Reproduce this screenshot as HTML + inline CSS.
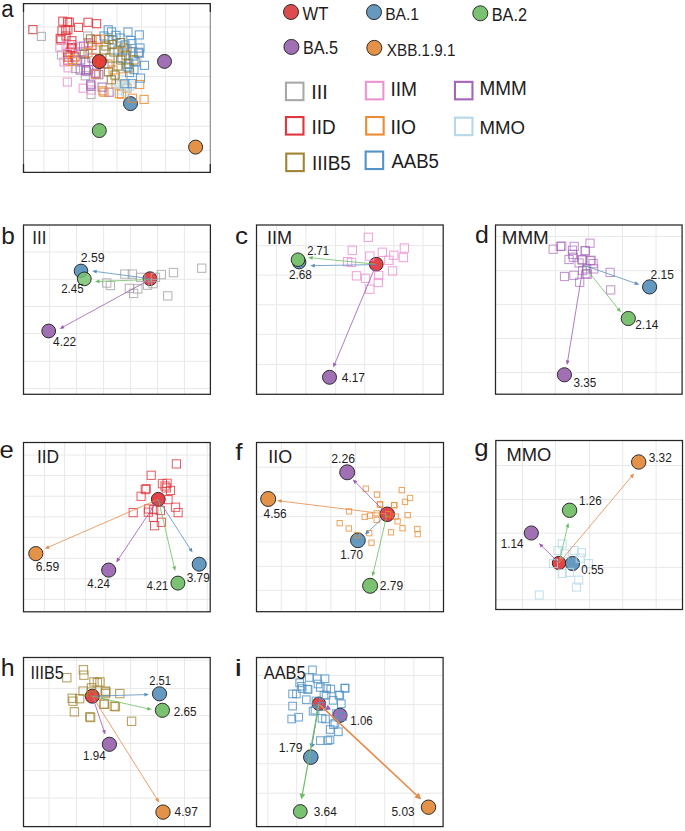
<!DOCTYPE html>
<html><head><meta charset="utf-8"><style>
html,body{margin:0;padding:0;background:#fff;}
svg{display:block;}
text{font-family:"Liberation Sans",sans-serif;fill:#1e1c1d;}
.g{stroke:#e8e8e8;stroke-width:1;}
.fr{fill:none;stroke:#262626;stroke-width:1.25;}
</style></head><body>
<svg width="685" height="831" viewBox="0 0 685 831">
<line x1="43.8" y1="3.5" x2="43.8" y2="172.4" class="g"/>
<line x1="68.6" y1="3.5" x2="68.6" y2="172.4" class="g"/>
<line x1="92.8" y1="3.5" x2="92.8" y2="172.4" class="g"/>
<line x1="117.0" y1="3.5" x2="117.0" y2="172.4" class="g"/>
<line x1="141.4" y1="3.5" x2="141.4" y2="172.4" class="g"/>
<line x1="165.6" y1="3.5" x2="165.6" y2="172.4" class="g"/>
<line x1="189.7" y1="3.5" x2="189.7" y2="172.4" class="g"/>
<line x1="23.5" y1="27.0" x2="210.3" y2="27.0" class="g"/>
<line x1="23.5" y1="52.3" x2="210.3" y2="52.3" class="g"/>
<line x1="23.5" y1="76.5" x2="210.3" y2="76.5" class="g"/>
<line x1="23.5" y1="101.4" x2="210.3" y2="101.4" class="g"/>
<line x1="23.5" y1="126.3" x2="210.3" y2="126.3" class="g"/>
<line x1="23.5" y1="150.4" x2="210.3" y2="150.4" class="g"/>
<circle cx="130.5" cy="103.6" r="7.00" fill="#6699c0" fill-opacity="1.0" stroke="#262626" stroke-width="0.95"/>
<rect x="28.85" y="25.55" width="8.1" height="8.1" fill="none" stroke="#e0363c" stroke-width="1.1" stroke-opacity="0.85"/>
<rect x="58.75" y="17.15" width="8.1" height="8.1" fill="none" stroke="#e0363c" stroke-width="1.1" stroke-opacity="0.85"/>
<rect x="63.45" y="17.85" width="8.1" height="8.1" fill="none" stroke="#e0363c" stroke-width="1.1" stroke-opacity="0.85"/>
<rect x="65.25" y="18.25" width="8.1" height="8.1" fill="none" stroke="#e0363c" stroke-width="1.1" stroke-opacity="0.85"/>
<rect x="74.45" y="23.35" width="8.1" height="8.1" fill="none" stroke="#e0363c" stroke-width="1.1" stroke-opacity="0.85"/>
<rect x="83.95" y="18.25" width="8.1" height="8.1" fill="none" stroke="#e0363c" stroke-width="1.1" stroke-opacity="0.85"/>
<rect x="92.55" y="19.65" width="8.1" height="8.1" fill="none" stroke="#e0363c" stroke-width="1.1" stroke-opacity="0.85"/>
<rect x="57.95" y="26.75" width="8.1" height="8.1" fill="none" stroke="#e0363c" stroke-width="1.1" stroke-opacity="0.85"/>
<rect x="61.65" y="26.45" width="8.1" height="8.1" fill="none" stroke="#e0363c" stroke-width="1.1" stroke-opacity="0.85"/>
<rect x="63.85" y="25.65" width="8.1" height="8.1" fill="none" stroke="#e0363c" stroke-width="1.1" stroke-opacity="0.85"/>
<rect x="56.15" y="34.45" width="8.1" height="8.1" fill="none" stroke="#e0363c" stroke-width="1.1" stroke-opacity="0.85"/>
<rect x="67.85" y="36.65" width="8.1" height="8.1" fill="none" stroke="#e0363c" stroke-width="1.1" stroke-opacity="0.85"/>
<rect x="67.45" y="40.65" width="8.1" height="8.1" fill="none" stroke="#e0363c" stroke-width="1.1" stroke-opacity="0.85"/>
<rect x="67.15" y="43.55" width="8.1" height="8.1" fill="none" stroke="#e0363c" stroke-width="1.1" stroke-opacity="0.85"/>
<rect x="84.25" y="38.85" width="8.1" height="8.1" fill="none" stroke="#e0363c" stroke-width="1.1" stroke-opacity="0.85"/>
<rect x="87.95" y="41.35" width="8.1" height="8.1" fill="none" stroke="#e0363c" stroke-width="1.1" stroke-opacity="0.85"/>
<rect x="92.65" y="35.55" width="8.1" height="8.1" fill="none" stroke="#e0363c" stroke-width="1.1" stroke-opacity="0.85"/>
<rect x="64.15" y="53.05" width="8.1" height="8.1" fill="none" stroke="#e0363c" stroke-width="1.1" stroke-opacity="0.85"/>
<rect x="63.75" y="56.75" width="8.1" height="8.1" fill="none" stroke="#e0363c" stroke-width="1.1" stroke-opacity="0.85"/>
<rect x="61.95" y="31.95" width="8.1" height="8.1" fill="none" stroke="#e0363c" stroke-width="1.1" stroke-opacity="0.85"/>
<rect x="65.95" y="47.95" width="8.1" height="8.1" fill="none" stroke="#e0363c" stroke-width="1.1" stroke-opacity="0.85"/>
<rect x="63.45" y="50.45" width="8.1" height="8.1" fill="none" stroke="#e0363c" stroke-width="1.1" stroke-opacity="0.85"/>
<rect x="68.25" y="43.75" width="8.1" height="8.1" fill="none" stroke="#e0363c" stroke-width="1.1" stroke-opacity="0.85"/>
<rect x="70.95" y="52.95" width="8.1" height="8.1" fill="none" stroke="#e0363c" stroke-width="1.1" stroke-opacity="0.85"/>
<rect x="56.95" y="35.95" width="8.1" height="8.1" fill="none" stroke="#e0363c" stroke-width="1.1" stroke-opacity="0.85"/>
<rect x="37.35" y="32.35" width="8.1" height="8.1" fill="none" stroke="#a8a8a8" stroke-width="1.1" stroke-opacity="0.85"/>
<rect x="83.55" y="31.95" width="8.1" height="8.1" fill="none" stroke="#a8a8a8" stroke-width="1.1" stroke-opacity="0.85"/>
<rect x="57.45" y="50.95" width="8.1" height="8.1" fill="none" stroke="#a8a8a8" stroke-width="1.1" stroke-opacity="0.85"/>
<rect x="71.35" y="64.45" width="8.1" height="8.1" fill="none" stroke="#a8a8a8" stroke-width="1.1" stroke-opacity="0.85"/>
<rect x="81.25" y="71.75" width="8.1" height="8.1" fill="none" stroke="#a8a8a8" stroke-width="1.1" stroke-opacity="0.85"/>
<rect x="86.95" y="90.45" width="8.1" height="8.1" fill="none" stroke="#a8a8a8" stroke-width="1.1" stroke-opacity="0.85"/>
<rect x="95.95" y="57.95" width="8.1" height="8.1" fill="none" stroke="#a8a8a8" stroke-width="1.1" stroke-opacity="0.85"/>
<rect x="55.85" y="43.55" width="8.1" height="8.1" fill="none" stroke="#ec94d2" stroke-width="1.1" stroke-opacity="0.85"/>
<rect x="61.95" y="41.35" width="8.1" height="8.1" fill="none" stroke="#ec94d2" stroke-width="1.1" stroke-opacity="0.85"/>
<rect x="64.05" y="63.75" width="8.1" height="8.1" fill="none" stroke="#ec94d2" stroke-width="1.1" stroke-opacity="0.85"/>
<rect x="63.35" y="77.95" width="8.1" height="8.1" fill="none" stroke="#ec94d2" stroke-width="1.1" stroke-opacity="0.85"/>
<rect x="79.05" y="84.15" width="8.1" height="8.1" fill="none" stroke="#ec94d2" stroke-width="1.1" stroke-opacity="0.85"/>
<rect x="87.45" y="85.95" width="8.1" height="8.1" fill="none" stroke="#ec94d2" stroke-width="1.1" stroke-opacity="0.85"/>
<rect x="73.65" y="42.35" width="8.1" height="8.1" fill="none" stroke="#ec94d2" stroke-width="1.1" stroke-opacity="0.85"/>
<rect x="59.95" y="57.95" width="8.1" height="8.1" fill="none" stroke="#ec94d2" stroke-width="1.1" stroke-opacity="0.85"/>
<rect x="79.55" y="42.15" width="8.1" height="8.1" fill="none" stroke="#a564b9" stroke-width="1.1" stroke-opacity="0.85"/>
<rect x="76.65" y="55.95" width="8.1" height="8.1" fill="none" stroke="#a564b9" stroke-width="1.1" stroke-opacity="0.85"/>
<rect x="72.85" y="56.75" width="8.1" height="8.1" fill="none" stroke="#a564b9" stroke-width="1.1" stroke-opacity="0.85"/>
<rect x="81.65" y="57.55" width="8.1" height="8.1" fill="none" stroke="#a564b9" stroke-width="1.1" stroke-opacity="0.85"/>
<rect x="76.15" y="65.95" width="8.1" height="8.1" fill="none" stroke="#a564b9" stroke-width="1.1" stroke-opacity="0.85"/>
<rect x="81.65" y="65.95" width="8.1" height="8.1" fill="none" stroke="#a564b9" stroke-width="1.1" stroke-opacity="0.85"/>
<rect x="84.55" y="65.55" width="8.1" height="8.1" fill="none" stroke="#a564b9" stroke-width="1.1" stroke-opacity="0.85"/>
<rect x="92.15" y="69.15" width="8.1" height="8.1" fill="none" stroke="#a564b9" stroke-width="1.1" stroke-opacity="0.85"/>
<rect x="86.75" y="80.15" width="8.1" height="8.1" fill="none" stroke="#a564b9" stroke-width="1.1" stroke-opacity="0.85"/>
<rect x="86.75" y="81.95" width="8.1" height="8.1" fill="none" stroke="#a564b9" stroke-width="1.1" stroke-opacity="0.85"/>
<rect x="98.05" y="83.05" width="8.1" height="8.1" fill="none" stroke="#a564b9" stroke-width="1.1" stroke-opacity="0.85"/>
<rect x="105.05" y="88.15" width="8.1" height="8.1" fill="none" stroke="#a564b9" stroke-width="1.1" stroke-opacity="0.85"/>
<rect x="91.25" y="69.95" width="8.1" height="8.1" fill="none" stroke="#a564b9" stroke-width="1.1" stroke-opacity="0.85"/>
<rect x="94.75" y="70.65" width="8.1" height="8.1" fill="none" stroke="#a564b9" stroke-width="1.1" stroke-opacity="0.85"/>
<rect x="87.95" y="53.95" width="8.1" height="8.1" fill="none" stroke="#a564b9" stroke-width="1.1" stroke-opacity="0.85"/>
<rect x="99.95" y="59.95" width="8.1" height="8.1" fill="none" stroke="#a564b9" stroke-width="1.1" stroke-opacity="0.85"/>
<rect x="82.45" y="67.05" width="8.1" height="8.1" fill="none" stroke="#a564b9" stroke-width="1.1" stroke-opacity="0.85"/>
<rect x="77.95" y="47.95" width="8.1" height="8.1" fill="none" stroke="#a564b9" stroke-width="1.1" stroke-opacity="0.85"/>
<rect x="68.45" y="57.55" width="8.1" height="8.1" fill="none" stroke="#ec8c34" stroke-width="1.1" stroke-opacity="0.85"/>
<rect x="83.95" y="48.65" width="8.1" height="8.1" fill="none" stroke="#ec8c34" stroke-width="1.1" stroke-opacity="0.85"/>
<rect x="68.55" y="55.25" width="8.1" height="8.1" fill="none" stroke="#ec8c34" stroke-width="1.1" stroke-opacity="0.85"/>
<rect x="91.85" y="70.25" width="8.1" height="8.1" fill="none" stroke="#ec8c34" stroke-width="1.1" stroke-opacity="0.85"/>
<rect x="98.75" y="86.75" width="8.1" height="8.1" fill="none" stroke="#ec8c34" stroke-width="1.1" stroke-opacity="0.85"/>
<rect x="96.15" y="34.95" width="8.1" height="8.1" fill="none" stroke="#ec8c34" stroke-width="1.1" stroke-opacity="0.85"/>
<rect x="118.65" y="47.75" width="8.1" height="8.1" fill="none" stroke="#ec8c34" stroke-width="1.1" stroke-opacity="0.85"/>
<rect x="128.85" y="47.75" width="8.1" height="8.1" fill="none" stroke="#ec8c34" stroke-width="1.1" stroke-opacity="0.85"/>
<rect x="99.95" y="88.15" width="8.1" height="8.1" fill="none" stroke="#ec8c34" stroke-width="1.1" stroke-opacity="0.85"/>
<rect x="115.25" y="89.65" width="8.1" height="8.1" fill="none" stroke="#ec8c34" stroke-width="1.1" stroke-opacity="0.85"/>
<rect x="128.35" y="94.15" width="8.1" height="8.1" fill="none" stroke="#ec8c34" stroke-width="1.1" stroke-opacity="0.85"/>
<rect x="140.05" y="95.35" width="8.1" height="8.1" fill="none" stroke="#ec8c34" stroke-width="1.1" stroke-opacity="0.85"/>
<rect x="135.65" y="80.45" width="8.1" height="8.1" fill="none" stroke="#ec8c34" stroke-width="1.1" stroke-opacity="0.85"/>
<rect x="117.55" y="90.15" width="8.1" height="8.1" fill="none" stroke="#ec8c34" stroke-width="1.1" stroke-opacity="0.85"/>
<rect x="118.95" y="72.85" width="8.1" height="8.1" fill="none" stroke="#ec8c34" stroke-width="1.1" stroke-opacity="0.85"/>
<rect x="103.95" y="59.95" width="8.1" height="8.1" fill="none" stroke="#ec8c34" stroke-width="1.1" stroke-opacity="0.85"/>
<rect x="111.95" y="79.95" width="8.1" height="8.1" fill="none" stroke="#ec8c34" stroke-width="1.1" stroke-opacity="0.85"/>
<rect x="122.95" y="83.95" width="8.1" height="8.1" fill="none" stroke="#ec8c34" stroke-width="1.1" stroke-opacity="0.85"/>
<rect x="108.95" y="65.95" width="8.1" height="8.1" fill="none" stroke="#ec8c34" stroke-width="1.1" stroke-opacity="0.85"/>
<rect x="121.95" y="59.95" width="8.1" height="8.1" fill="none" stroke="#ec8c34" stroke-width="1.1" stroke-opacity="0.85"/>
<rect x="91.95" y="45.95" width="8.1" height="8.1" fill="none" stroke="#ec8c34" stroke-width="1.1" stroke-opacity="0.85"/>
<rect x="120.45" y="83.05" width="8.1" height="8.1" fill="none" stroke="#b5d9e8" stroke-width="1.1" stroke-opacity="0.85"/>
<rect x="115.95" y="80.15" width="8.1" height="8.1" fill="none" stroke="#b5d9e8" stroke-width="1.1" stroke-opacity="0.85"/>
<rect x="121.55" y="87.75" width="8.1" height="8.1" fill="none" stroke="#b5d9e8" stroke-width="1.1" stroke-opacity="0.85"/>
<rect x="113.95" y="85.95" width="8.1" height="8.1" fill="none" stroke="#b5d9e8" stroke-width="1.1" stroke-opacity="0.85"/>
<rect x="125.95" y="81.95" width="8.1" height="8.1" fill="none" stroke="#b5d9e8" stroke-width="1.1" stroke-opacity="0.85"/>
<rect x="117.95" y="75.95" width="8.1" height="8.1" fill="none" stroke="#b5d9e8" stroke-width="1.1" stroke-opacity="0.85"/>
<rect x="104.15" y="25.75" width="8.1" height="8.1" fill="none" stroke="#5393c7" stroke-width="1.1" stroke-opacity="0.85"/>
<rect x="107.45" y="27.85" width="8.1" height="8.1" fill="none" stroke="#5393c7" stroke-width="1.1" stroke-opacity="0.85"/>
<rect x="111.95" y="31.35" width="8.1" height="8.1" fill="none" stroke="#5393c7" stroke-width="1.1" stroke-opacity="0.85"/>
<rect x="135.25" y="30.85" width="8.1" height="8.1" fill="none" stroke="#5393c7" stroke-width="1.1" stroke-opacity="0.85"/>
<rect x="126.85" y="36.45" width="8.1" height="8.1" fill="none" stroke="#5393c7" stroke-width="1.1" stroke-opacity="0.85"/>
<rect x="127.85" y="39.55" width="8.1" height="8.1" fill="none" stroke="#5393c7" stroke-width="1.1" stroke-opacity="0.85"/>
<rect x="134.45" y="48.25" width="8.1" height="8.1" fill="none" stroke="#5393c7" stroke-width="1.1" stroke-opacity="0.85"/>
<rect x="131.65" y="57.95" width="8.1" height="8.1" fill="none" stroke="#5393c7" stroke-width="1.1" stroke-opacity="0.85"/>
<rect x="140.45" y="61.25" width="8.1" height="8.1" fill="none" stroke="#5393c7" stroke-width="1.1" stroke-opacity="0.85"/>
<rect x="135.25" y="49.15" width="8.1" height="8.1" fill="none" stroke="#5393c7" stroke-width="1.1" stroke-opacity="0.85"/>
<rect x="129.95" y="65.55" width="8.1" height="8.1" fill="none" stroke="#5393c7" stroke-width="1.1" stroke-opacity="0.85"/>
<rect x="124.75" y="59.75" width="8.1" height="8.1" fill="none" stroke="#5393c7" stroke-width="1.1" stroke-opacity="0.85"/>
<rect x="136.45" y="74.05" width="8.1" height="8.1" fill="none" stroke="#5393c7" stroke-width="1.1" stroke-opacity="0.85"/>
<rect x="115.95" y="33.95" width="8.1" height="8.1" fill="none" stroke="#5393c7" stroke-width="1.1" stroke-opacity="0.85"/>
<rect x="120.95" y="40.95" width="8.1" height="8.1" fill="none" stroke="#5393c7" stroke-width="1.1" stroke-opacity="0.85"/>
<rect x="113.95" y="45.95" width="8.1" height="8.1" fill="none" stroke="#5393c7" stroke-width="1.1" stroke-opacity="0.85"/>
<rect x="122.95" y="45.95" width="8.1" height="8.1" fill="none" stroke="#5393c7" stroke-width="1.1" stroke-opacity="0.85"/>
<rect x="128.95" y="51.95" width="8.1" height="8.1" fill="none" stroke="#5393c7" stroke-width="1.1" stroke-opacity="0.85"/>
<rect x="135.95" y="43.95" width="8.1" height="8.1" fill="none" stroke="#5393c7" stroke-width="1.1" stroke-opacity="0.85"/>
<rect x="117.95" y="53.95" width="8.1" height="8.1" fill="none" stroke="#5393c7" stroke-width="1.1" stroke-opacity="0.85"/>
<rect x="127.95" y="79.65" width="8.1" height="8.1" fill="none" stroke="#5393c7" stroke-width="1.1" stroke-opacity="0.85"/>
<rect x="120.75" y="79.65" width="8.1" height="8.1" fill="none" stroke="#5393c7" stroke-width="1.1" stroke-opacity="0.85"/>
<rect x="108.95" y="35.95" width="8.1" height="8.1" fill="none" stroke="#5393c7" stroke-width="1.1" stroke-opacity="0.85"/>
<rect x="99.95" y="31.95" width="8.1" height="8.1" fill="none" stroke="#5393c7" stroke-width="1.1" stroke-opacity="0.85"/>
<rect x="123.95" y="27.95" width="8.1" height="8.1" fill="none" stroke="#5393c7" stroke-width="1.1" stroke-opacity="0.85"/>
<rect x="123.15" y="62.85" width="8.1" height="8.1" fill="none" stroke="#5393c7" stroke-width="1.1" stroke-opacity="0.85"/>
<rect x="125.55" y="68.45" width="8.1" height="8.1" fill="none" stroke="#5393c7" stroke-width="1.1" stroke-opacity="0.85"/>
<rect x="86.45" y="34.85" width="8.1" height="8.1" fill="none" stroke="#8c7a30" stroke-width="1.1" stroke-opacity="0.85"/>
<rect x="80.25" y="50.15" width="8.1" height="8.1" fill="none" stroke="#8c7a30" stroke-width="1.1" stroke-opacity="0.85"/>
<rect x="104.85" y="35.45" width="8.1" height="8.1" fill="none" stroke="#8c7a30" stroke-width="1.1" stroke-opacity="0.85"/>
<rect x="107.95" y="40.55" width="8.1" height="8.1" fill="none" stroke="#8c7a30" stroke-width="1.1" stroke-opacity="0.85"/>
<rect x="116.65" y="38.55" width="8.1" height="8.1" fill="none" stroke="#8c7a30" stroke-width="1.1" stroke-opacity="0.85"/>
<rect x="116.65" y="55.95" width="8.1" height="8.1" fill="none" stroke="#8c7a30" stroke-width="1.1" stroke-opacity="0.85"/>
<rect x="104.35" y="67.75" width="8.1" height="8.1" fill="none" stroke="#8c7a30" stroke-width="1.1" stroke-opacity="0.85"/>
<rect x="107.25" y="75.75" width="8.1" height="8.1" fill="none" stroke="#8c7a30" stroke-width="1.1" stroke-opacity="0.85"/>
<rect x="99.95" y="45.95" width="8.1" height="8.1" fill="none" stroke="#8c7a30" stroke-width="1.1" stroke-opacity="0.85"/>
<rect x="109.95" y="47.95" width="8.1" height="8.1" fill="none" stroke="#8c7a30" stroke-width="1.1" stroke-opacity="0.85"/>
<rect x="121.95" y="50.95" width="8.1" height="8.1" fill="none" stroke="#8c7a30" stroke-width="1.1" stroke-opacity="0.85"/>
<rect x="113.95" y="61.95" width="8.1" height="8.1" fill="none" stroke="#8c7a30" stroke-width="1.1" stroke-opacity="0.85"/>
<rect x="124.95" y="63.95" width="8.1" height="8.1" fill="none" stroke="#8c7a30" stroke-width="1.1" stroke-opacity="0.85"/>
<rect x="105.95" y="53.95" width="8.1" height="8.1" fill="none" stroke="#8c7a30" stroke-width="1.1" stroke-opacity="0.85"/>
<rect x="119.95" y="43.95" width="8.1" height="8.1" fill="none" stroke="#8c7a30" stroke-width="1.1" stroke-opacity="0.85"/>
<rect x="129.95" y="55.95" width="8.1" height="8.1" fill="none" stroke="#8c7a30" stroke-width="1.1" stroke-opacity="0.85"/>
<rect x="110.95" y="70.95" width="8.1" height="8.1" fill="none" stroke="#8c7a30" stroke-width="1.1" stroke-opacity="0.85"/>
<rect x="101.95" y="41.95" width="8.1" height="8.1" fill="none" stroke="#8c7a30" stroke-width="1.1" stroke-opacity="0.85"/>
<circle cx="99.3" cy="61.5" r="7.0" fill="#e5392e" fill-opacity="0.95" stroke="#262626" stroke-width="0.95"/>
<circle cx="164.5" cy="61.4" r="7.00" fill="#a06fb4" fill-opacity="1.0" stroke="#262626" stroke-width="0.95"/>
<circle cx="99.3" cy="130.6" r="7.00" fill="#7ac272" fill-opacity="1.0" stroke="#262626" stroke-width="0.95"/>
<circle cx="195.6" cy="147.1" r="7.00" fill="#e39248" fill-opacity="1.0" stroke="#262626" stroke-width="0.95"/>
<line x1="23.5" y1="3.5" x2="23.5" y2="172.4" stroke="#6e6e6e" stroke-width="1.15"/>
<line x1="210.3" y1="3.5" x2="210.3" y2="172.4" stroke="#888" stroke-width="1.15"/>
<path d="M23.5 12.0V3.5H210.3V12.0M23.5 163.9V172.4H210.3V163.9" class="fr"/>
<circle cx="291.0" cy="12.0" r="7.5" fill="#dc4b4e" stroke="#262626" stroke-width="0.95"/>
<circle cx="374.0" cy="12.1" r="7.5" fill="#6699c0" stroke="#262626" stroke-width="0.95"/>
<circle cx="480.3" cy="13.3" r="7.5" fill="#7ac272" stroke="#262626" stroke-width="0.95"/>
<circle cx="291.4" cy="46.9" r="7.5" fill="#a06fb4" stroke="#262626" stroke-width="0.95"/>
<circle cx="374.3" cy="47.85" r="7.5" fill="#e39248" stroke="#262626" stroke-width="0.95"/>
<rect x="285.95" y="82.65" width="17.5" height="17.5" fill="none" stroke="#a8a8a8" stroke-width="2.1"/>
<rect x="365.85" y="81.85" width="17.5" height="17.5" fill="none" stroke="#ec94d2" stroke-width="2.1"/>
<rect x="454.95" y="81.85" width="17.5" height="17.5" fill="none" stroke="#a564b9" stroke-width="2.1"/>
<rect x="285.95" y="117.05" width="17.5" height="17.5" fill="none" stroke="#e0363c" stroke-width="2.1"/>
<rect x="366.15" y="117.05" width="17.5" height="17.5" fill="none" stroke="#ec8c34" stroke-width="2.1"/>
<rect x="454.95" y="117.65" width="17.5" height="17.5" fill="none" stroke="#b5d9e8" stroke-width="2.1"/>
<rect x="286.25" y="153.60" width="17.5" height="17.5" fill="none" stroke="#a08430" stroke-width="2.1"/>
<rect x="365.65" y="151.55" width="17.5" height="17.5" fill="none" stroke="#5393c7" stroke-width="2.1"/>
<line x1="49.6" y1="225.0" x2="49.6" y2="394.3" class="g"/>
<line x1="76.5" y1="225.0" x2="76.5" y2="394.3" class="g"/>
<line x1="103.6" y1="225.0" x2="103.6" y2="394.3" class="g"/>
<line x1="130.6" y1="225.0" x2="130.6" y2="394.3" class="g"/>
<line x1="157.6" y1="225.0" x2="157.6" y2="394.3" class="g"/>
<line x1="184.4" y1="225.0" x2="184.4" y2="394.3" class="g"/>
<line x1="23.5" y1="252.0" x2="210.4" y2="252.0" class="g"/>
<line x1="23.5" y1="279.3" x2="210.4" y2="279.3" class="g"/>
<line x1="23.5" y1="306.4" x2="210.4" y2="306.4" class="g"/>
<line x1="23.5" y1="333.6" x2="210.4" y2="333.6" class="g"/>
<line x1="23.5" y1="361.3" x2="210.4" y2="361.3" class="g"/>
<line x1="23.5" y1="388.4" x2="210.4" y2="388.4" class="g"/>
<circle cx="150.0" cy="278.7" r="6.90" fill="#e64346" fill-opacity="1.0" stroke="#262626" stroke-width="0.95"/>
<circle cx="81.0" cy="270.9" r="6.80" fill="#6699c0" fill-opacity="1.0" stroke="#262626" stroke-width="0.95"/>
<circle cx="84.3" cy="278.9" r="6.90" fill="#7ac272" fill-opacity="0.85" stroke="#262626" stroke-width="0.95"/>
<circle cx="48.7" cy="331.0" r="6.90" fill="#a06fb4" fill-opacity="1.0" stroke="#262626" stroke-width="0.95"/>
<rect x="120.65" y="269.95" width="8.3" height="8.3" fill="none" stroke="#a8a8a8" stroke-width="1.1" stroke-opacity="0.8"/>
<rect x="128.25" y="269.95" width="8.3" height="8.3" fill="none" stroke="#a8a8a8" stroke-width="1.1" stroke-opacity="0.8"/>
<rect x="136.45" y="273.25" width="8.3" height="8.3" fill="none" stroke="#a8a8a8" stroke-width="1.1" stroke-opacity="0.8"/>
<rect x="157.15" y="270.45" width="8.3" height="8.3" fill="none" stroke="#a8a8a8" stroke-width="1.1" stroke-opacity="0.8"/>
<rect x="169.35" y="268.45" width="8.3" height="8.3" fill="none" stroke="#a8a8a8" stroke-width="1.1" stroke-opacity="0.8"/>
<rect x="197.55" y="264.05" width="8.3" height="8.3" fill="none" stroke="#a8a8a8" stroke-width="1.1" stroke-opacity="0.8"/>
<rect x="102.55" y="278.85" width="8.3" height="8.3" fill="none" stroke="#a8a8a8" stroke-width="1.1" stroke-opacity="0.8"/>
<rect x="106.25" y="281.35" width="8.3" height="8.3" fill="none" stroke="#a8a8a8" stroke-width="1.1" stroke-opacity="0.8"/>
<rect x="125.25" y="284.25" width="8.3" height="8.3" fill="none" stroke="#a8a8a8" stroke-width="1.1" stroke-opacity="0.8"/>
<rect x="133.65" y="284.75" width="8.3" height="8.3" fill="none" stroke="#a8a8a8" stroke-width="1.1" stroke-opacity="0.8"/>
<rect x="129.45" y="289.25" width="8.3" height="8.3" fill="none" stroke="#a8a8a8" stroke-width="1.1" stroke-opacity="0.8"/>
<rect x="143.35" y="281.05" width="8.3" height="8.3" fill="none" stroke="#a8a8a8" stroke-width="1.1" stroke-opacity="0.8"/>
<rect x="151.25" y="273.25" width="8.3" height="8.3" fill="none" stroke="#a8a8a8" stroke-width="1.1" stroke-opacity="0.8"/>
<rect x="163.55" y="291.75" width="8.3" height="8.3" fill="none" stroke="#a8a8a8" stroke-width="1.1" stroke-opacity="0.8"/>
<rect x="148.85" y="279.45" width="8.3" height="8.3" fill="none" stroke="#a8a8a8" stroke-width="1.1" stroke-opacity="0.8"/>
<line x1="150.0" y1="278.7" x2="96.16" y2="271.54" stroke="#5a8fc0" stroke-width="0.8"/>
<polygon points="92.10,271.00 96.91,269.72 96.41,273.49" fill="#5a8fc0"/>
<line x1="150.0" y1="279.5" x2="99.00" y2="281.44" stroke="#6cbf64" stroke-width="0.8"/>
<polygon points="94.90,281.60 99.42,279.53 99.57,283.32" fill="#6cbf64"/>
<line x1="150.0" y1="279.5" x2="63.20" y2="326.93" stroke="#9a5bb4" stroke-width="0.8"/>
<polygon points="59.60,328.90 62.73,325.03 64.55,328.36" fill="#9a5bb4"/>
<rect x="23.5" y="225.0" width="186.90" height="169.30" class="fr"/>
<line x1="276.5" y1="225.0" x2="276.5" y2="394.3" class="g"/>
<line x1="306.0" y1="225.0" x2="306.0" y2="394.3" class="g"/>
<line x1="335.6" y1="225.0" x2="335.6" y2="394.3" class="g"/>
<line x1="364.7" y1="225.0" x2="364.7" y2="394.3" class="g"/>
<line x1="393.7" y1="225.0" x2="393.7" y2="394.3" class="g"/>
<line x1="423.0" y1="225.0" x2="423.0" y2="394.3" class="g"/>
<line x1="256.5" y1="245.7" x2="443.2" y2="245.7" class="g"/>
<line x1="256.5" y1="275.1" x2="443.2" y2="275.1" class="g"/>
<line x1="256.5" y1="304.8" x2="443.2" y2="304.8" class="g"/>
<line x1="256.5" y1="334.4" x2="443.2" y2="334.4" class="g"/>
<line x1="256.5" y1="364.6" x2="443.2" y2="364.6" class="g"/>
<circle cx="376.2" cy="264.2" r="6.90" fill="#e64346" fill-opacity="1.0" stroke="#262626" stroke-width="0.95"/>
<circle cx="299.1" cy="262.1" r="6.80" fill="#6699c0" fill-opacity="1.0" stroke="#262626" stroke-width="0.95"/>
<circle cx="298.0" cy="259.7" r="6.80" fill="#7ac272" fill-opacity="1.0" stroke="#262626" stroke-width="0.95"/>
<circle cx="329.5" cy="377.3" r="7.00" fill="#a06fb4" fill-opacity="1.0" stroke="#262626" stroke-width="0.95"/>
<rect x="364.15" y="233.15" width="8.3" height="8.3" fill="none" stroke="#ec94d2" stroke-width="1.1" stroke-opacity="0.8"/>
<rect x="348.15" y="246.15" width="8.3" height="8.3" fill="none" stroke="#ec94d2" stroke-width="1.1" stroke-opacity="0.8"/>
<rect x="365.65" y="251.95" width="8.3" height="8.3" fill="none" stroke="#ec94d2" stroke-width="1.1" stroke-opacity="0.8"/>
<rect x="378.25" y="248.15" width="8.3" height="8.3" fill="none" stroke="#ec94d2" stroke-width="1.1" stroke-opacity="0.8"/>
<rect x="389.65" y="251.15" width="8.3" height="8.3" fill="none" stroke="#ec94d2" stroke-width="1.1" stroke-opacity="0.8"/>
<rect x="400.25" y="243.95" width="8.3" height="8.3" fill="none" stroke="#ec94d2" stroke-width="1.1" stroke-opacity="0.8"/>
<rect x="399.25" y="253.35" width="8.3" height="8.3" fill="none" stroke="#ec94d2" stroke-width="1.1" stroke-opacity="0.8"/>
<rect x="384.65" y="256.15" width="8.3" height="8.3" fill="none" stroke="#ec94d2" stroke-width="1.1" stroke-opacity="0.8"/>
<rect x="343.45" y="257.55" width="8.3" height="8.3" fill="none" stroke="#ec94d2" stroke-width="1.1" stroke-opacity="0.8"/>
<rect x="347.35" y="258.15" width="8.3" height="8.3" fill="none" stroke="#ec94d2" stroke-width="1.1" stroke-opacity="0.8"/>
<rect x="388.45" y="266.75" width="8.3" height="8.3" fill="none" stroke="#ec94d2" stroke-width="1.1" stroke-opacity="0.8"/>
<rect x="352.35" y="271.65" width="8.3" height="8.3" fill="none" stroke="#ec94d2" stroke-width="1.1" stroke-opacity="0.8"/>
<rect x="361.45" y="274.15" width="8.3" height="8.3" fill="none" stroke="#ec94d2" stroke-width="1.1" stroke-opacity="0.8"/>
<rect x="374.55" y="271.25" width="8.3" height="8.3" fill="none" stroke="#ec94d2" stroke-width="1.1" stroke-opacity="0.8"/>
<rect x="374.15" y="278.35" width="8.3" height="8.3" fill="none" stroke="#ec94d2" stroke-width="1.1" stroke-opacity="0.8"/>
<rect x="365.65" y="285.05" width="8.3" height="8.3" fill="none" stroke="#ec94d2" stroke-width="1.1" stroke-opacity="0.8"/>
<line x1="376.2" y1="264.2" x2="312.08" y2="257.90" stroke="#6cbf64" stroke-width="0.8"/>
<polygon points="308.00,257.50 312.76,256.06 312.39,259.84" fill="#6cbf64"/>
<line x1="376.2" y1="264.6" x2="314.30" y2="265.63" stroke="#5a8fc0" stroke-width="0.8"/>
<polygon points="310.20,265.70 314.77,263.72 314.83,267.52" fill="#5a8fc0"/>
<line x1="376.2" y1="264.6" x2="334.78" y2="363.82" stroke="#9a5bb4" stroke-width="0.8"/>
<polygon points="333.20,367.60 333.22,362.62 336.73,364.09" fill="#9a5bb4"/>
<rect x="256.5" y="225.0" width="186.70" height="169.30" class="fr"/>
<line x1="521.7" y1="225.0" x2="521.7" y2="394.2" class="g"/>
<line x1="555.3" y1="225.0" x2="555.3" y2="394.2" class="g"/>
<line x1="588.5" y1="225.0" x2="588.5" y2="394.2" class="g"/>
<line x1="622.5" y1="225.0" x2="622.5" y2="394.2" class="g"/>
<line x1="656.0" y1="225.0" x2="656.0" y2="394.2" class="g"/>
<line x1="495.5" y1="236.5" x2="682.1" y2="236.5" class="g"/>
<line x1="495.5" y1="270.7" x2="682.1" y2="270.7" class="g"/>
<line x1="495.5" y1="304.4" x2="682.1" y2="304.4" class="g"/>
<line x1="495.5" y1="338.3" x2="682.1" y2="338.3" class="g"/>
<line x1="495.5" y1="372.4" x2="682.1" y2="372.4" class="g"/>
<circle cx="649.6" cy="286.9" r="7.10" fill="#6699c0" fill-opacity="1.0" stroke="#262626" stroke-width="0.95"/>
<circle cx="628.3" cy="318.5" r="7.10" fill="#7ac272" fill-opacity="1.0" stroke="#262626" stroke-width="0.95"/>
<circle cx="564.4" cy="374.8" r="7.10" fill="#a06fb4" fill-opacity="1.0" stroke="#262626" stroke-width="0.95"/>
<rect x="549.10" y="245.10" width="8.2" height="8.2" fill="none" stroke="#a564b9" stroke-width="1.0" stroke-opacity="0.7"/>
<rect x="556.30" y="242.30" width="8.2" height="8.2" fill="none" stroke="#a564b9" stroke-width="1.0" stroke-opacity="0.7"/>
<rect x="570.10" y="242.30" width="8.2" height="8.2" fill="none" stroke="#a564b9" stroke-width="1.0" stroke-opacity="0.7"/>
<rect x="585.90" y="239.10" width="8.2" height="8.2" fill="none" stroke="#a564b9" stroke-width="1.0" stroke-opacity="0.7"/>
<rect x="568.40" y="246.10" width="8.2" height="8.2" fill="none" stroke="#a564b9" stroke-width="1.0" stroke-opacity="0.7"/>
<rect x="581.20" y="246.70" width="8.2" height="8.2" fill="none" stroke="#a564b9" stroke-width="1.0" stroke-opacity="0.7"/>
<rect x="568.40" y="250.20" width="8.2" height="8.2" fill="none" stroke="#a564b9" stroke-width="1.0" stroke-opacity="0.7"/>
<rect x="564.90" y="255.40" width="8.2" height="8.2" fill="none" stroke="#a564b9" stroke-width="1.0" stroke-opacity="0.7"/>
<rect x="569.20" y="253.10" width="8.2" height="8.2" fill="none" stroke="#a564b9" stroke-width="1.0" stroke-opacity="0.7"/>
<rect x="575.00" y="258.90" width="8.2" height="8.2" fill="none" stroke="#a564b9" stroke-width="1.0" stroke-opacity="0.7"/>
<rect x="578.50" y="256.00" width="8.2" height="8.2" fill="none" stroke="#a564b9" stroke-width="1.0" stroke-opacity="0.7"/>
<rect x="586.10" y="256.60" width="8.2" height="8.2" fill="none" stroke="#a564b9" stroke-width="1.0" stroke-opacity="0.7"/>
<rect x="589.00" y="259.50" width="8.2" height="8.2" fill="none" stroke="#a564b9" stroke-width="1.0" stroke-opacity="0.7"/>
<rect x="589.60" y="264.80" width="8.2" height="8.2" fill="none" stroke="#a564b9" stroke-width="1.0" stroke-opacity="0.7"/>
<rect x="582.60" y="264.80" width="8.2" height="8.2" fill="none" stroke="#a564b9" stroke-width="1.0" stroke-opacity="0.7"/>
<rect x="578.50" y="266.50" width="8.2" height="8.2" fill="none" stroke="#a564b9" stroke-width="1.0" stroke-opacity="0.7"/>
<rect x="583.20" y="270.00" width="8.2" height="8.2" fill="none" stroke="#a564b9" stroke-width="1.0" stroke-opacity="0.7"/>
<rect x="560.40" y="272.40" width="8.2" height="8.2" fill="none" stroke="#a564b9" stroke-width="1.0" stroke-opacity="0.7"/>
<rect x="569.80" y="271.20" width="8.2" height="8.2" fill="none" stroke="#a564b9" stroke-width="1.0" stroke-opacity="0.7"/>
<rect x="575.60" y="278.20" width="8.2" height="8.2" fill="none" stroke="#a564b9" stroke-width="1.0" stroke-opacity="0.7"/>
<rect x="606.00" y="268.30" width="8.2" height="8.2" fill="none" stroke="#a564b9" stroke-width="1.0" stroke-opacity="0.7"/>
<rect x="606.60" y="285.80" width="8.2" height="8.2" fill="none" stroke="#a564b9" stroke-width="1.0" stroke-opacity="0.7"/>
<rect x="557.60" y="242.00" width="8.2" height="8.2" fill="none" stroke="#a564b9" stroke-width="1.0" stroke-opacity="0.7"/>
<rect x="581.10" y="246.70" width="8.2" height="8.2" fill="none" stroke="#a564b9" stroke-width="1.0" stroke-opacity="0.7"/>
<rect x="587.00" y="256.20" width="8.2" height="8.2" fill="none" stroke="#a564b9" stroke-width="1.0" stroke-opacity="0.7"/>
<rect x="577.70" y="255.40" width="8.2" height="8.2" fill="none" stroke="#a564b9" stroke-width="1.0" stroke-opacity="0.7"/>
<rect x="581.90" y="269.70" width="8.2" height="8.2" fill="none" stroke="#a564b9" stroke-width="1.0" stroke-opacity="0.7"/>
<line x1="583.3" y1="265.1" x2="635.43" y2="283.25" stroke="#5a8fc0" stroke-width="0.8"/>
<polygon points="639.30,284.60 634.33,284.88 635.58,281.29" fill="#5a8fc0"/>
<line x1="583.3" y1="265.1" x2="618.35" y2="309.09" stroke="#6cbf64" stroke-width="0.8"/>
<polygon points="620.90,312.30 616.55,309.89 619.52,307.52" fill="#6cbf64"/>
<line x1="583.3" y1="265.1" x2="567.66" y2="361.05" stroke="#9a5bb4" stroke-width="0.8"/>
<polygon points="567.00,365.10 565.86,360.25 569.62,360.87" fill="#9a5bb4"/>
<rect x="495.5" y="225.0" width="186.60" height="169.20" class="fr"/>
<line x1="44.4" y1="442.5" x2="44.4" y2="611.8" class="g"/>
<line x1="64.6" y1="442.5" x2="64.6" y2="611.8" class="g"/>
<line x1="85.4" y1="442.5" x2="85.4" y2="611.8" class="g"/>
<line x1="105.6" y1="442.5" x2="105.6" y2="611.8" class="g"/>
<line x1="125.8" y1="442.5" x2="125.8" y2="611.8" class="g"/>
<line x1="146.4" y1="442.5" x2="146.4" y2="611.8" class="g"/>
<line x1="166.7" y1="442.5" x2="166.7" y2="611.8" class="g"/>
<line x1="187.0" y1="442.5" x2="187.0" y2="611.8" class="g"/>
<line x1="207.2" y1="442.5" x2="207.2" y2="611.8" class="g"/>
<line x1="23.5" y1="455.0" x2="210.2" y2="455.0" class="g"/>
<line x1="23.5" y1="475.4" x2="210.2" y2="475.4" class="g"/>
<line x1="23.5" y1="496.2" x2="210.2" y2="496.2" class="g"/>
<line x1="23.5" y1="516.9" x2="210.2" y2="516.9" class="g"/>
<line x1="23.5" y1="537.3" x2="210.2" y2="537.3" class="g"/>
<line x1="23.5" y1="558.4" x2="210.2" y2="558.4" class="g"/>
<line x1="23.5" y1="578.8" x2="210.2" y2="578.8" class="g"/>
<line x1="23.5" y1="599.4" x2="210.2" y2="599.4" class="g"/>
<circle cx="158.3" cy="499.3" r="6.90" fill="#e64346" fill-opacity="1.0" stroke="#262626" stroke-width="0.95"/>
<circle cx="35.8" cy="553.6" r="7.10" fill="#e39248" fill-opacity="1.0" stroke="#262626" stroke-width="0.95"/>
<circle cx="108.7" cy="570.1" r="7.10" fill="#a06fb4" fill-opacity="1.0" stroke="#262626" stroke-width="0.95"/>
<circle cx="177.9" cy="583.1" r="7.00" fill="#7ac272" fill-opacity="1.0" stroke="#262626" stroke-width="0.95"/>
<circle cx="199.2" cy="564.2" r="7.00" fill="#6699c0" fill-opacity="1.0" stroke="#262626" stroke-width="0.95"/>
<rect x="172.30" y="459.80" width="8.2" height="8.2" fill="none" stroke="#e0363c" stroke-width="1.0" stroke-opacity="0.8"/>
<rect x="147.10" y="471.20" width="8.2" height="8.2" fill="none" stroke="#e0363c" stroke-width="1.0" stroke-opacity="0.8"/>
<rect x="158.30" y="479.60" width="8.2" height="8.2" fill="none" stroke="#e0363c" stroke-width="1.0" stroke-opacity="0.8"/>
<rect x="163.00" y="479.20" width="8.2" height="8.2" fill="none" stroke="#e0363c" stroke-width="1.0" stroke-opacity="0.8"/>
<rect x="162.20" y="483.80" width="8.2" height="8.2" fill="none" stroke="#e0363c" stroke-width="1.0" stroke-opacity="0.8"/>
<rect x="166.40" y="486.30" width="8.2" height="8.2" fill="none" stroke="#e0363c" stroke-width="1.0" stroke-opacity="0.8"/>
<rect x="142.10" y="484.60" width="8.2" height="8.2" fill="none" stroke="#e0363c" stroke-width="1.0" stroke-opacity="0.8"/>
<rect x="141.20" y="485.50" width="8.2" height="8.2" fill="none" stroke="#e0363c" stroke-width="1.0" stroke-opacity="0.8"/>
<rect x="137.00" y="492.20" width="8.2" height="8.2" fill="none" stroke="#e0363c" stroke-width="1.0" stroke-opacity="0.8"/>
<rect x="163.90" y="495.50" width="8.2" height="8.2" fill="none" stroke="#e0363c" stroke-width="1.0" stroke-opacity="0.8"/>
<rect x="171.40" y="503.10" width="8.2" height="8.2" fill="none" stroke="#e0363c" stroke-width="1.0" stroke-opacity="0.8"/>
<rect x="174.00" y="508.50" width="8.2" height="8.2" fill="none" stroke="#e0363c" stroke-width="1.0" stroke-opacity="0.8"/>
<rect x="129.10" y="508.50" width="8.2" height="8.2" fill="none" stroke="#e0363c" stroke-width="1.0" stroke-opacity="0.8"/>
<rect x="144.60" y="504.80" width="8.2" height="8.2" fill="none" stroke="#e0363c" stroke-width="1.0" stroke-opacity="0.8"/>
<rect x="144.20" y="508.10" width="8.2" height="8.2" fill="none" stroke="#e0363c" stroke-width="1.0" stroke-opacity="0.8"/>
<rect x="149.60" y="505.60" width="8.2" height="8.2" fill="none" stroke="#e0363c" stroke-width="1.0" stroke-opacity="0.8"/>
<rect x="156.30" y="506.40" width="8.2" height="8.2" fill="none" stroke="#e0363c" stroke-width="1.0" stroke-opacity="0.8"/>
<rect x="149.30" y="513.20" width="8.2" height="8.2" fill="none" stroke="#e0363c" stroke-width="1.0" stroke-opacity="0.8"/>
<rect x="157.20" y="518.20" width="8.2" height="8.2" fill="none" stroke="#e0363c" stroke-width="1.0" stroke-opacity="0.8"/>
<rect x="150.50" y="521.60" width="8.2" height="8.2" fill="none" stroke="#e0363c" stroke-width="1.0" stroke-opacity="0.8"/>
<rect x="160.90" y="481.90" width="8.2" height="8.2" fill="none" stroke="#e0363c" stroke-width="1.0" stroke-opacity="0.8"/>
<line x1="158.3" y1="499.3" x2="48.46" y2="547.16" stroke="#e68a48" stroke-width="0.8"/>
<polygon points="44.70,548.80 48.16,545.22 49.68,548.70" fill="#e68a48"/>
<line x1="158.3" y1="499.3" x2="118.47" y2="559.09" stroke="#9a5bb4" stroke-width="0.8"/>
<polygon points="116.20,562.50 117.17,557.62 120.33,559.72" fill="#9a5bb4"/>
<line x1="158.3" y1="499.3" x2="174.26" y2="567.01" stroke="#6cbf64" stroke-width="0.8"/>
<polygon points="175.20,571.00 172.30,566.96 175.99,566.09" fill="#6cbf64"/>
<line x1="158.3" y1="499.3" x2="190.38" y2="549.15" stroke="#5a8fc0" stroke-width="0.8"/>
<polygon points="192.60,552.60 188.51,549.76 191.71,547.70" fill="#5a8fc0"/>
<rect x="23.5" y="442.5" width="186.70" height="169.30" class="fr"/>
<line x1="281.3" y1="442.5" x2="281.3" y2="611.7" class="g"/>
<line x1="306.1" y1="442.5" x2="306.1" y2="611.7" class="g"/>
<line x1="330.8" y1="442.5" x2="330.8" y2="611.7" class="g"/>
<line x1="355.5" y1="442.5" x2="355.5" y2="611.7" class="g"/>
<line x1="380.4" y1="442.5" x2="380.4" y2="611.7" class="g"/>
<line x1="404.7" y1="442.5" x2="404.7" y2="611.7" class="g"/>
<line x1="429.7" y1="442.5" x2="429.7" y2="611.7" class="g"/>
<line x1="256.5" y1="467.2" x2="443.5" y2="467.2" class="g"/>
<line x1="256.5" y1="492.0" x2="443.5" y2="492.0" class="g"/>
<line x1="256.5" y1="516.7" x2="443.5" y2="516.7" class="g"/>
<line x1="256.5" y1="541.8" x2="443.5" y2="541.8" class="g"/>
<line x1="256.5" y1="566.4" x2="443.5" y2="566.4" class="g"/>
<line x1="256.5" y1="590.4" x2="443.5" y2="590.4" class="g"/>
<circle cx="387.2" cy="514.3" r="7.30" fill="#e64346" fill-opacity="1.0" stroke="#262626" stroke-width="0.95"/>
<circle cx="268.2" cy="499.0" r="7.50" fill="#e39248" fill-opacity="1.0" stroke="#262626" stroke-width="0.95"/>
<circle cx="347.2" cy="472.3" r="7.50" fill="#a06fb4" fill-opacity="1.0" stroke="#262626" stroke-width="0.95"/>
<circle cx="357.9" cy="540.3" r="7.40" fill="#6699c0" fill-opacity="1.0" stroke="#262626" stroke-width="0.95"/>
<circle cx="370.1" cy="585.8" r="7.50" fill="#7ac272" fill-opacity="1.0" stroke="#262626" stroke-width="0.95"/>
<rect x="363.15" y="486.05" width="5.3" height="5.3" fill="none" stroke="#ec8c34" stroke-width="1.0" stroke-opacity="0.8"/>
<rect x="374.35" y="491.95" width="5.3" height="5.3" fill="none" stroke="#ec8c34" stroke-width="1.0" stroke-opacity="0.8"/>
<rect x="377.25" y="501.55" width="5.3" height="5.3" fill="none" stroke="#ec8c34" stroke-width="1.0" stroke-opacity="0.8"/>
<rect x="391.45" y="502.55" width="5.3" height="5.3" fill="none" stroke="#ec8c34" stroke-width="1.0" stroke-opacity="0.8"/>
<rect x="399.15" y="487.45" width="5.3" height="5.3" fill="none" stroke="#ec8c34" stroke-width="1.0" stroke-opacity="0.8"/>
<rect x="407.45" y="495.35" width="5.3" height="5.3" fill="none" stroke="#ec8c34" stroke-width="1.0" stroke-opacity="0.8"/>
<rect x="402.35" y="499.15" width="5.3" height="5.3" fill="none" stroke="#ec8c34" stroke-width="1.0" stroke-opacity="0.8"/>
<rect x="346.35" y="508.75" width="5.3" height="5.3" fill="none" stroke="#ec8c34" stroke-width="1.0" stroke-opacity="0.8"/>
<rect x="362.05" y="514.25" width="5.3" height="5.3" fill="none" stroke="#ec8c34" stroke-width="1.0" stroke-opacity="0.8"/>
<rect x="367.25" y="513.05" width="5.3" height="5.3" fill="none" stroke="#ec8c34" stroke-width="1.0" stroke-opacity="0.8"/>
<rect x="374.05" y="510.65" width="5.3" height="5.3" fill="none" stroke="#ec8c34" stroke-width="1.0" stroke-opacity="0.8"/>
<rect x="374.05" y="517.25" width="5.3" height="5.3" fill="none" stroke="#ec8c34" stroke-width="1.0" stroke-opacity="0.8"/>
<rect x="385.45" y="511.55" width="5.3" height="5.3" fill="none" stroke="#ec8c34" stroke-width="1.0" stroke-opacity="0.8"/>
<rect x="393.05" y="513.95" width="5.3" height="5.3" fill="none" stroke="#ec8c34" stroke-width="1.0" stroke-opacity="0.8"/>
<rect x="394.95" y="518.65" width="5.3" height="5.3" fill="none" stroke="#ec8c34" stroke-width="1.0" stroke-opacity="0.8"/>
<rect x="405.05" y="512.55" width="5.3" height="5.3" fill="none" stroke="#ec8c34" stroke-width="1.0" stroke-opacity="0.8"/>
<rect x="337.05" y="520.55" width="5.3" height="5.3" fill="none" stroke="#ec8c34" stroke-width="1.0" stroke-opacity="0.8"/>
<rect x="346.15" y="525.85" width="5.3" height="5.3" fill="none" stroke="#ec8c34" stroke-width="1.0" stroke-opacity="0.8"/>
<rect x="399.85" y="525.55" width="5.3" height="5.3" fill="none" stroke="#ec8c34" stroke-width="1.0" stroke-opacity="0.8"/>
<rect x="414.65" y="526.35" width="5.3" height="5.3" fill="none" stroke="#ec8c34" stroke-width="1.0" stroke-opacity="0.8"/>
<rect x="366.55" y="530.55" width="5.3" height="5.3" fill="none" stroke="#ec8c34" stroke-width="1.0" stroke-opacity="0.8"/>
<rect x="368.85" y="540.05" width="5.3" height="5.3" fill="none" stroke="#ec8c34" stroke-width="1.0" stroke-opacity="0.8"/>
<rect x="388.35" y="529.65" width="5.3" height="5.3" fill="none" stroke="#ec8c34" stroke-width="1.0" stroke-opacity="0.8"/>
<rect x="415.05" y="531.45" width="5.3" height="5.3" fill="none" stroke="#ec8c34" stroke-width="1.0" stroke-opacity="0.8"/>
<rect x="354.35" y="532.45" width="5.3" height="5.3" fill="none" stroke="#ec8c34" stroke-width="1.0" stroke-opacity="0.8"/>
<rect x="377.45" y="502.05" width="5.3" height="5.3" fill="none" stroke="#ec8c34" stroke-width="1.0" stroke-opacity="0.8"/>
<rect x="391.65" y="502.55" width="5.3" height="5.3" fill="none" stroke="#ec8c34" stroke-width="1.0" stroke-opacity="0.8"/>
<line x1="387.1" y1="514.2" x2="281.07" y2="501.10" stroke="#e68a48" stroke-width="0.8"/>
<polygon points="277.00,500.60 281.80,499.28 281.33,503.05" fill="#e68a48"/>
<line x1="387.1" y1="514.2" x2="355.68" y2="482.32" stroke="#9a5bb4" stroke-width="0.8"/>
<polygon points="352.80,479.40 357.38,481.34 354.68,484.01" fill="#9a5bb4"/>
<line x1="387.1" y1="514.2" x2="367.92" y2="531.83" stroke="#5a8fc0" stroke-width="0.8"/>
<polygon points="364.90,534.60 367.00,530.09 369.57,532.89" fill="#5a8fc0"/>
<line x1="387.1" y1="514.2" x2="373.34" y2="572.51" stroke="#6cbf64" stroke-width="0.8"/>
<polygon points="372.40,576.50 371.61,571.59 375.31,572.46" fill="#6cbf64"/>
<rect x="256.5" y="442.5" width="187.00" height="169.20" class="fr"/>
<line x1="522.5" y1="440.5" x2="522.5" y2="609.5" class="g"/>
<line x1="555.6" y1="440.5" x2="555.6" y2="609.5" class="g"/>
<line x1="589.5" y1="440.5" x2="589.5" y2="609.5" class="g"/>
<line x1="622.8" y1="440.5" x2="622.8" y2="609.5" class="g"/>
<line x1="656.1" y1="440.5" x2="656.1" y2="609.5" class="g"/>
<line x1="495.8" y1="465.5" x2="682.5" y2="465.5" class="g"/>
<line x1="495.8" y1="499.4" x2="682.5" y2="499.4" class="g"/>
<line x1="495.8" y1="533.2" x2="682.5" y2="533.2" class="g"/>
<line x1="495.8" y1="567.4" x2="682.5" y2="567.4" class="g"/>
<line x1="495.8" y1="599.8" x2="682.5" y2="599.8" class="g"/>
<circle cx="559.0" cy="563.0" r="6.70" fill="#e64346" fill-opacity="1.0" stroke="#262626" stroke-width="0.95"/>
<circle cx="572.5" cy="563.5" r="7.10" fill="#6699c0" fill-opacity="1.0" stroke="#262626" stroke-width="0.95"/>
<circle cx="531.3" cy="533.0" r="7.10" fill="#a06fb4" fill-opacity="1.0" stroke="#262626" stroke-width="0.95"/>
<circle cx="569.6" cy="510.3" r="7.20" fill="#7ac272" fill-opacity="1.0" stroke="#262626" stroke-width="0.95"/>
<circle cx="638.7" cy="462.0" r="7.20" fill="#e39248" fill-opacity="1.0" stroke="#262626" stroke-width="0.95"/>
<rect x="558.30" y="539.90" width="8.0" height="8.0" fill="none" stroke="#b5d9e8" stroke-width="1.1" stroke-opacity="0.8"/>
<rect x="553.90" y="546.50" width="8.0" height="8.0" fill="none" stroke="#b5d9e8" stroke-width="1.1" stroke-opacity="0.8"/>
<rect x="560.40" y="549.80" width="8.0" height="8.0" fill="none" stroke="#b5d9e8" stroke-width="1.1" stroke-opacity="0.8"/>
<rect x="570.30" y="546.50" width="8.0" height="8.0" fill="none" stroke="#b5d9e8" stroke-width="1.1" stroke-opacity="0.8"/>
<rect x="577.50" y="548.70" width="8.0" height="8.0" fill="none" stroke="#b5d9e8" stroke-width="1.1" stroke-opacity="0.8"/>
<rect x="576.20" y="554.20" width="8.0" height="8.0" fill="none" stroke="#b5d9e8" stroke-width="1.1" stroke-opacity="0.8"/>
<rect x="549.50" y="559.60" width="8.0" height="8.0" fill="none" stroke="#b5d9e8" stroke-width="1.1" stroke-opacity="0.8"/>
<rect x="584.50" y="559.60" width="8.0" height="8.0" fill="none" stroke="#b5d9e8" stroke-width="1.1" stroke-opacity="0.8"/>
<rect x="558.30" y="569.50" width="8.0" height="8.0" fill="none" stroke="#b5d9e8" stroke-width="1.1" stroke-opacity="0.8"/>
<rect x="565.50" y="568.40" width="8.0" height="8.0" fill="none" stroke="#b5d9e8" stroke-width="1.1" stroke-opacity="0.8"/>
<rect x="574.70" y="576.10" width="8.0" height="8.0" fill="none" stroke="#b5d9e8" stroke-width="1.1" stroke-opacity="0.8"/>
<rect x="572.50" y="583.10" width="8.0" height="8.0" fill="none" stroke="#b5d9e8" stroke-width="1.1" stroke-opacity="0.8"/>
<rect x="535.30" y="591.00" width="8.0" height="8.0" fill="none" stroke="#b5d9e8" stroke-width="1.1" stroke-opacity="0.8"/>
<line x1="559.0" y1="563.0" x2="567.47" y2="526.79" stroke="#6cbf64" stroke-width="0.8"/>
<polygon points="568.40,522.80 569.20,527.71 565.50,526.85" fill="#6cbf64"/>
<line x1="559.0" y1="563.0" x2="541.82" y2="546.08" stroke="#9a5bb4" stroke-width="0.8"/>
<polygon points="538.90,543.20 543.51,545.07 540.84,547.78" fill="#9a5bb4"/>
<line x1="559.0" y1="563.0" x2="631.46" y2="476.64" stroke="#e68a48" stroke-width="0.8"/>
<polygon points="634.10,473.50 632.60,478.25 629.69,475.80" fill="#e68a48"/>
<rect x="495.8" y="440.5" width="186.70" height="169.00" class="fr"/>
<line x1="49.0" y1="657.5" x2="49.0" y2="826.6" class="g"/>
<line x1="76.4" y1="657.5" x2="76.4" y2="826.6" class="g"/>
<line x1="103.7" y1="657.5" x2="103.7" y2="826.6" class="g"/>
<line x1="130.7" y1="657.5" x2="130.7" y2="826.6" class="g"/>
<line x1="157.5" y1="657.5" x2="157.5" y2="826.6" class="g"/>
<line x1="184.5" y1="657.5" x2="184.5" y2="826.6" class="g"/>
<line x1="23.5" y1="660.2" x2="210.2" y2="660.2" class="g"/>
<line x1="23.5" y1="688.4" x2="210.2" y2="688.4" class="g"/>
<line x1="23.5" y1="715.6" x2="210.2" y2="715.6" class="g"/>
<line x1="23.5" y1="743.4" x2="210.2" y2="743.4" class="g"/>
<line x1="23.5" y1="770.4" x2="210.2" y2="770.4" class="g"/>
<line x1="23.5" y1="798.0" x2="210.2" y2="798.0" class="g"/>
<circle cx="92.3" cy="696.2" r="7.00" fill="#e64346" fill-opacity="1.0" stroke="#262626" stroke-width="0.95"/>
<circle cx="159.5" cy="693.8" r="7.10" fill="#6699c0" fill-opacity="1.0" stroke="#262626" stroke-width="0.95"/>
<circle cx="162.4" cy="710.3" r="7.10" fill="#7ac272" fill-opacity="1.0" stroke="#262626" stroke-width="0.95"/>
<circle cx="109.4" cy="744.3" r="7.10" fill="#a06fb4" fill-opacity="1.0" stroke="#262626" stroke-width="0.95"/>
<circle cx="163.0" cy="812.1" r="7.20" fill="#e39248" fill-opacity="1.0" stroke="#262626" stroke-width="0.95"/>
<rect x="62.65" y="673.55" width="8.3" height="8.3" fill="none" stroke="#a08430" stroke-width="1.1" stroke-opacity="0.75"/>
<rect x="79.25" y="665.65" width="8.3" height="8.3" fill="none" stroke="#a08430" stroke-width="1.1" stroke-opacity="0.75"/>
<rect x="79.75" y="671.05" width="8.3" height="8.3" fill="none" stroke="#a08430" stroke-width="1.1" stroke-opacity="0.75"/>
<rect x="89.85" y="677.75" width="8.3" height="8.3" fill="none" stroke="#a08430" stroke-width="1.1" stroke-opacity="0.75"/>
<rect x="93.25" y="678.55" width="8.3" height="8.3" fill="none" stroke="#a08430" stroke-width="1.1" stroke-opacity="0.75"/>
<rect x="87.35" y="683.65" width="8.3" height="8.3" fill="none" stroke="#a08430" stroke-width="1.1" stroke-opacity="0.75"/>
<rect x="78.95" y="686.95" width="8.3" height="8.3" fill="none" stroke="#a08430" stroke-width="1.1" stroke-opacity="0.75"/>
<rect x="101.25" y="686.95" width="8.3" height="8.3" fill="none" stroke="#a08430" stroke-width="1.1" stroke-opacity="0.75"/>
<rect x="101.25" y="689.45" width="8.3" height="8.3" fill="none" stroke="#a08430" stroke-width="1.1" stroke-opacity="0.75"/>
<rect x="68.05" y="694.15" width="8.3" height="8.3" fill="none" stroke="#a08430" stroke-width="1.1" stroke-opacity="0.75"/>
<rect x="68.85" y="697.05" width="8.3" height="8.3" fill="none" stroke="#a08430" stroke-width="1.1" stroke-opacity="0.75"/>
<rect x="75.55" y="694.55" width="8.3" height="8.3" fill="none" stroke="#a08430" stroke-width="1.1" stroke-opacity="0.75"/>
<rect x="99.95" y="699.95" width="8.3" height="8.3" fill="none" stroke="#a08430" stroke-width="1.1" stroke-opacity="0.75"/>
<rect x="110.05" y="702.05" width="8.3" height="8.3" fill="none" stroke="#a08430" stroke-width="1.1" stroke-opacity="0.75"/>
<rect x="70.25" y="707.65" width="8.3" height="8.3" fill="none" stroke="#a08430" stroke-width="1.1" stroke-opacity="0.75"/>
<rect x="85.65" y="712.65" width="8.3" height="8.3" fill="none" stroke="#a08430" stroke-width="1.1" stroke-opacity="0.75"/>
<rect x="86.45" y="713.35" width="8.3" height="8.3" fill="none" stroke="#a08430" stroke-width="1.1" stroke-opacity="0.75"/>
<rect x="95.85" y="677.75" width="8.3" height="8.3" fill="none" stroke="#a08430" stroke-width="1.1" stroke-opacity="0.75"/>
<rect x="101.75" y="687.85" width="8.3" height="8.3" fill="none" stroke="#a08430" stroke-width="1.1" stroke-opacity="0.75"/>
<rect x="115.65" y="689.45" width="8.3" height="8.3" fill="none" stroke="#a08430" stroke-width="1.1" stroke-opacity="0.75"/>
<rect x="100.05" y="700.05" width="8.3" height="8.3" fill="none" stroke="#a08430" stroke-width="1.1" stroke-opacity="0.75"/>
<rect x="111.25" y="702.55" width="8.3" height="8.3" fill="none" stroke="#a08430" stroke-width="1.1" stroke-opacity="0.75"/>
<rect x="127.45" y="717.15" width="8.3" height="8.3" fill="none" stroke="#a08430" stroke-width="1.1" stroke-opacity="0.75"/>
<rect x="87.35" y="687.85" width="8.3" height="8.3" fill="none" stroke="#a08430" stroke-width="1.1" stroke-opacity="0.75"/>
<line x1="92.3" y1="696.2" x2="144.90" y2="694.62" stroke="#5a8fc0" stroke-width="0.8"/>
<polygon points="149.00,694.50 144.46,696.54 144.35,692.74" fill="#5a8fc0"/>
<line x1="92.3" y1="696.2" x2="147.80" y2="708.70" stroke="#6cbf64" stroke-width="0.8"/>
<polygon points="151.80,709.60 146.89,710.44 147.73,706.74" fill="#6cbf64"/>
<line x1="92.3" y1="696.2" x2="103.99" y2="730.72" stroke="#9a5bb4" stroke-width="0.8"/>
<polygon points="105.30,734.60 102.03,730.85 105.62,729.63" fill="#9a5bb4"/>
<line x1="92.3" y1="696.2" x2="157.02" y2="799.13" stroke="#e68a48" stroke-width="0.8"/>
<polygon points="159.20,802.60 155.14,799.72 158.36,797.69" fill="#e68a48"/>
<rect x="23.5" y="657.5" width="186.70" height="169.10" class="fr"/>
<line x1="267.8" y1="657.5" x2="267.8" y2="826.6" class="g"/>
<line x1="296.7" y1="657.5" x2="296.7" y2="826.6" class="g"/>
<line x1="326.0" y1="657.5" x2="326.0" y2="826.6" class="g"/>
<line x1="355.4" y1="657.5" x2="355.4" y2="826.6" class="g"/>
<line x1="384.7" y1="657.5" x2="384.7" y2="826.6" class="g"/>
<line x1="413.8" y1="657.5" x2="413.8" y2="826.6" class="g"/>
<line x1="256.5" y1="675.4" x2="443.1" y2="675.4" class="g"/>
<line x1="256.5" y1="704.6" x2="443.1" y2="704.6" class="g"/>
<line x1="256.5" y1="734.1" x2="443.1" y2="734.1" class="g"/>
<line x1="256.5" y1="763.7" x2="443.1" y2="763.7" class="g"/>
<line x1="256.5" y1="793.2" x2="443.1" y2="793.2" class="g"/>
<circle cx="318.9" cy="703.8" r="6.70" fill="#e64346" fill-opacity="1.0" stroke="#262626" stroke-width="0.95"/>
<circle cx="340.0" cy="715.3" r="7.10" fill="#a06fb4" fill-opacity="1.0" stroke="#262626" stroke-width="0.95"/>
<circle cx="310.8" cy="757.1" r="7.30" fill="#6699c0" fill-opacity="1.0" stroke="#262626" stroke-width="0.95"/>
<circle cx="300.3" cy="811.5" r="6.90" fill="#7ac272" fill-opacity="1.0" stroke="#262626" stroke-width="0.95"/>
<circle cx="428.5" cy="807.2" r="7.20" fill="#e39248" fill-opacity="1.0" stroke="#262626" stroke-width="0.95"/>
<rect x="308.70" y="666.10" width="7.6" height="7.6" fill="none" stroke="#5393c7" stroke-width="1.1" stroke-opacity="0.8"/>
<rect x="305.40" y="673.70" width="7.6" height="7.6" fill="none" stroke="#5393c7" stroke-width="1.1" stroke-opacity="0.8"/>
<rect x="313.30" y="674.90" width="7.6" height="7.6" fill="none" stroke="#5393c7" stroke-width="1.1" stroke-opacity="0.8"/>
<rect x="321.20" y="674.90" width="7.6" height="7.6" fill="none" stroke="#5393c7" stroke-width="1.1" stroke-opacity="0.8"/>
<rect x="295.80" y="679.00" width="7.6" height="7.6" fill="none" stroke="#5393c7" stroke-width="1.1" stroke-opacity="0.8"/>
<rect x="297.60" y="682.50" width="7.6" height="7.6" fill="none" stroke="#5393c7" stroke-width="1.1" stroke-opacity="0.8"/>
<rect x="303.60" y="685.40" width="7.6" height="7.6" fill="none" stroke="#5393c7" stroke-width="1.1" stroke-opacity="0.8"/>
<rect x="314.20" y="680.20" width="7.6" height="7.6" fill="none" stroke="#5393c7" stroke-width="1.1" stroke-opacity="0.8"/>
<rect x="316.50" y="683.60" width="7.6" height="7.6" fill="none" stroke="#5393c7" stroke-width="1.1" stroke-opacity="0.8"/>
<rect x="322.90" y="684.80" width="7.6" height="7.6" fill="none" stroke="#5393c7" stroke-width="1.1" stroke-opacity="0.8"/>
<rect x="341.00" y="684.20" width="7.6" height="7.6" fill="none" stroke="#5393c7" stroke-width="1.1" stroke-opacity="0.8"/>
<rect x="335.20" y="691.20" width="7.6" height="7.6" fill="none" stroke="#5393c7" stroke-width="1.1" stroke-opacity="0.8"/>
<rect x="288.80" y="690.10" width="7.6" height="7.6" fill="none" stroke="#5393c7" stroke-width="1.1" stroke-opacity="0.8"/>
<rect x="292.60" y="690.10" width="7.6" height="7.6" fill="none" stroke="#5393c7" stroke-width="1.1" stroke-opacity="0.8"/>
<rect x="302.50" y="695.90" width="7.6" height="7.6" fill="none" stroke="#5393c7" stroke-width="1.1" stroke-opacity="0.8"/>
<rect x="322.30" y="691.20" width="7.6" height="7.6" fill="none" stroke="#5393c7" stroke-width="1.1" stroke-opacity="0.8"/>
<rect x="329.30" y="696.50" width="7.6" height="7.6" fill="none" stroke="#5393c7" stroke-width="1.1" stroke-opacity="0.8"/>
<rect x="337.50" y="700.00" width="7.6" height="7.6" fill="none" stroke="#5393c7" stroke-width="1.1" stroke-opacity="0.8"/>
<rect x="288.80" y="702.30" width="7.6" height="7.6" fill="none" stroke="#5393c7" stroke-width="1.1" stroke-opacity="0.8"/>
<rect x="311.20" y="706.40" width="7.6" height="7.6" fill="none" stroke="#5393c7" stroke-width="1.1" stroke-opacity="0.8"/>
<rect x="318.20" y="714.60" width="7.6" height="7.6" fill="none" stroke="#5393c7" stroke-width="1.1" stroke-opacity="0.8"/>
<rect x="321.70" y="715.20" width="7.6" height="7.6" fill="none" stroke="#5393c7" stroke-width="1.1" stroke-opacity="0.8"/>
<rect x="331.10" y="719.30" width="7.6" height="7.6" fill="none" stroke="#5393c7" stroke-width="1.1" stroke-opacity="0.8"/>
<rect x="287.90" y="715.20" width="7.6" height="7.6" fill="none" stroke="#5393c7" stroke-width="1.1" stroke-opacity="0.8"/>
<rect x="294.90" y="713.40" width="7.6" height="7.6" fill="none" stroke="#5393c7" stroke-width="1.1" stroke-opacity="0.8"/>
<rect x="326.40" y="725.70" width="7.6" height="7.6" fill="none" stroke="#5393c7" stroke-width="1.1" stroke-opacity="0.8"/>
<rect x="334.60" y="728.00" width="7.6" height="7.6" fill="none" stroke="#5393c7" stroke-width="1.1" stroke-opacity="0.8"/>
<rect x="316.50" y="736.80" width="7.6" height="7.6" fill="none" stroke="#5393c7" stroke-width="1.1" stroke-opacity="0.8"/>
<rect x="324.10" y="736.80" width="7.6" height="7.6" fill="none" stroke="#5393c7" stroke-width="1.1" stroke-opacity="0.8"/>
<rect x="341.30" y="684.50" width="7.6" height="7.6" fill="none" stroke="#5393c7" stroke-width="1.1" stroke-opacity="0.8"/>
<rect x="335.90" y="691.50" width="7.6" height="7.6" fill="none" stroke="#5393c7" stroke-width="1.1" stroke-opacity="0.8"/>
<rect x="327.00" y="685.20" width="7.6" height="7.6" fill="none" stroke="#5393c7" stroke-width="1.1" stroke-opacity="0.8"/>
<rect x="329.60" y="720.90" width="7.6" height="7.6" fill="none" stroke="#5393c7" stroke-width="1.1" stroke-opacity="0.8"/>
<rect x="326.20" y="736.00" width="7.6" height="7.6" fill="none" stroke="#5393c7" stroke-width="1.1" stroke-opacity="0.8"/>
<rect x="298.40" y="684.80" width="7.6" height="7.6" fill="none" stroke="#5393c7" stroke-width="1.1" stroke-opacity="0.8"/>
<rect x="304.30" y="685.60" width="7.6" height="7.6" fill="none" stroke="#5393c7" stroke-width="1.1" stroke-opacity="0.8"/>
<rect x="320.20" y="691.50" width="7.6" height="7.6" fill="none" stroke="#5393c7" stroke-width="1.1" stroke-opacity="0.8"/>
<rect x="309.30" y="707.50" width="7.6" height="7.6" fill="none" stroke="#5393c7" stroke-width="1.1" stroke-opacity="0.8"/>
<rect x="332.70" y="709.70" width="7.6" height="7.6" fill="none" stroke="#5393c7" stroke-width="1.1" stroke-opacity="0.8"/>
<rect x="338.70" y="712.70" width="7.6" height="7.6" fill="none" stroke="#5393c7" stroke-width="1.1" stroke-opacity="0.8"/>
<rect x="312.20" y="697.20" width="7.6" height="7.6" fill="none" stroke="#5393c7" stroke-width="1.1" stroke-opacity="0.8"/>
<rect x="317.70" y="702.70" width="7.6" height="7.6" fill="none" stroke="#5393c7" stroke-width="1.1" stroke-opacity="0.8"/>
<line x1="318.9" y1="703.8" x2="312.16" y2="744.15" stroke="#5a8fc0" stroke-width="1.0"/>
<polygon points="311.50,748.10 309.28,743.17 315.20,744.16" fill="#5a8fc0"/>
<line x1="318.9" y1="703.8" x2="302.39" y2="794.19" stroke="#6cbf64" stroke-width="1.2"/>
<polygon points="301.40,799.60 299.63,793.18 305.33,794.22" fill="#6cbf64"/>
<line x1="318.9" y1="703.8" x2="416.92" y2="795.50" stroke="#e68a48" stroke-width="1.6"/>
<polygon points="421.30,799.60 414.37,797.50 418.74,792.82" fill="#e68a48"/>
<line x1="318.9" y1="703.8" x2="326.93" y2="707.58" stroke="#9a5bb4" stroke-width="0.9"/>
<polygon points="331.00,709.50 325.20,710.08 327.76,704.66" fill="#9a5bb4"/>
<rect x="256.5" y="657.5" width="186.60" height="169.10" class="fr"/>
<text x="302.50" y="19.90" font-size="18.62" textLength="25.79" lengthAdjust="spacingAndGlyphs">WT</text>
<text x="385.13" y="19.85" font-size="17.38" textLength="33.94" lengthAdjust="spacingAndGlyphs">BA.1</text>
<text x="491.68" y="20.90" font-size="17.43" textLength="35.33" lengthAdjust="spacingAndGlyphs">BA.2</text>
<text x="302.88" y="54.48" font-size="18.59" textLength="35.22" lengthAdjust="spacingAndGlyphs">BA.5</text>
<text x="386.82" y="55.69" font-size="17.05" textLength="68.59" lengthAdjust="spacingAndGlyphs">XBB.1.9.1</text>
<text x="311.34" y="98.50" font-size="19.49" textLength="16.54" lengthAdjust="spacingAndGlyphs">III</text>
<text x="390.40" y="95.80" font-size="19.78" textLength="26.69" lengthAdjust="spacingAndGlyphs">IIM</text>
<text x="479.56" y="95.30" font-size="19.49" textLength="47.26" lengthAdjust="spacingAndGlyphs">MMM</text>
<text x="311.43" y="133.80" font-size="19.35" textLength="24.16" lengthAdjust="spacingAndGlyphs">IID</text>
<text x="390.39" y="134.18" font-size="19.54" textLength="25.69" lengthAdjust="spacingAndGlyphs">IIO</text>
<text x="479.59" y="133.98" font-size="18.55" textLength="45.55" lengthAdjust="spacingAndGlyphs">MMO</text>
<text x="312.03" y="170.48" font-size="19.46" textLength="38.80" lengthAdjust="spacingAndGlyphs">IIIB5</text>
<text x="391.38" y="168.35" font-size="19.32" textLength="47.55" lengthAdjust="spacingAndGlyphs">AAB5</text>
<text x="1.22" y="17.05" font-size="24.09" textLength="12.48" lengthAdjust="spacingAndGlyphs">a</text>
<text x="1.37" y="243.95" font-size="23.66" textLength="13.60" lengthAdjust="spacingAndGlyphs">b</text>
<text x="234.96" y="244.15" font-size="24.09" textLength="12.99" lengthAdjust="spacingAndGlyphs">c</text>
<text x="475.11" y="243.45" font-size="23.38" textLength="13.84" lengthAdjust="spacingAndGlyphs">d</text>
<text x="-0.42" y="457.75" font-size="23.91" textLength="14.24" lengthAdjust="spacingAndGlyphs">e</text>
<text x="235.27" y="459.80" font-size="23.72" textLength="7.35" lengthAdjust="spacingAndGlyphs">f</text>
<text x="474.17" y="456.32" font-size="23.66" textLength="14.34" lengthAdjust="spacingAndGlyphs">g</text>
<text x="0.79" y="676.00" font-size="23.17" textLength="13.87" lengthAdjust="spacingAndGlyphs">h</text>
<text x="234.64" y="675.90" font-size="23.86" textLength="7.62" lengthAdjust="spacingAndGlyphs">i</text>
<text x="80.69" y="261.98" font-size="12.00" textLength="23.88" lengthAdjust="spacingAndGlyphs">2.59</text>
<text x="61.23" y="292.53" font-size="12.00" textLength="22.34" lengthAdjust="spacingAndGlyphs">2.45</text>
<text x="53.10" y="345.60" font-size="12.00" textLength="23.12" lengthAdjust="spacingAndGlyphs">4.22</text>
<text x="32.31" y="243.80" font-size="18.33" textLength="14.11" lengthAdjust="spacingAndGlyphs">III</text>
<text x="307.24" y="254.80" font-size="12.00" textLength="21.67" lengthAdjust="spacingAndGlyphs">2.71</text>
<text x="288.91" y="278.62" font-size="12.00" textLength="22.94" lengthAdjust="spacingAndGlyphs">2.68</text>
<text x="341.80" y="382.00" font-size="12.00" textLength="23.12" lengthAdjust="spacingAndGlyphs">4.17</text>
<text x="266.91" y="243.80" font-size="18.91" textLength="25.08" lengthAdjust="spacingAndGlyphs">IIM</text>
<text x="650.60" y="278.62" font-size="12.00" textLength="23.28" lengthAdjust="spacingAndGlyphs">2.15</text>
<text x="635.31" y="329.10" font-size="12.00" textLength="23.02" lengthAdjust="spacingAndGlyphs">2.14</text>
<text x="573.46" y="386.53" font-size="12.00" textLength="22.81" lengthAdjust="spacingAndGlyphs">3.35</text>
<text x="501.77" y="243.60" font-size="18.33" textLength="46.94" lengthAdjust="spacingAndGlyphs">MMM</text>
<text x="35.69" y="571.12" font-size="12.00" textLength="23.57" lengthAdjust="spacingAndGlyphs">6.59</text>
<text x="87.36" y="587.80" font-size="12.00" textLength="22.56" lengthAdjust="spacingAndGlyphs">4.24</text>
<text x="146.63" y="589.90" font-size="12.00" textLength="21.39" lengthAdjust="spacingAndGlyphs">4.21</text>
<text x="186.66" y="581.82" font-size="12.00" textLength="23.10" lengthAdjust="spacingAndGlyphs">3.79</text>
<text x="36.88" y="463.20" font-size="18.33" textLength="22.14" lengthAdjust="spacingAndGlyphs">IID</text>
<text x="263.50" y="517.72" font-size="12.00" textLength="23.25" lengthAdjust="spacingAndGlyphs">4.56</text>
<text x="331.19" y="463.43" font-size="12.00" textLength="23.88" lengthAdjust="spacingAndGlyphs">2.26</text>
<text x="340.33" y="559.22" font-size="12.00" textLength="22.64" lengthAdjust="spacingAndGlyphs">1.70</text>
<text x="379.80" y="589.72" font-size="12.00" textLength="23.46" lengthAdjust="spacingAndGlyphs">2.79</text>
<text x="268.33" y="463.48" font-size="18.55" textLength="23.80" lengthAdjust="spacingAndGlyphs">IIO</text>
<text x="581.27" y="574.42" font-size="12.00" textLength="22.50" lengthAdjust="spacingAndGlyphs">0.55</text>
<text x="500.77" y="547.90" font-size="12.00" textLength="22.75" lengthAdjust="spacingAndGlyphs">1.14</text>
<text x="579.03" y="505.12" font-size="12.00" textLength="22.61" lengthAdjust="spacingAndGlyphs">1.26</text>
<text x="648.66" y="461.82" font-size="12.00" textLength="23.07" lengthAdjust="spacingAndGlyphs">3.32</text>
<text x="506.51" y="461.09" font-size="18.27" textLength="44.81" lengthAdjust="spacingAndGlyphs">MMO</text>
<text x="149.24" y="684.62" font-size="12.00" textLength="21.78" lengthAdjust="spacingAndGlyphs">2.51</text>
<text x="173.72" y="715.92" font-size="12.00" textLength="22.75" lengthAdjust="spacingAndGlyphs">2.65</text>
<text x="83.03" y="759.82" font-size="12.00" textLength="22.59" lengthAdjust="spacingAndGlyphs">1.94</text>
<text x="174.60" y="816.22" font-size="12.00" textLength="23.23" lengthAdjust="spacingAndGlyphs">4.97</text>
<text x="30.59" y="678.78" font-size="18.88" textLength="33.12" lengthAdjust="spacingAndGlyphs">IIIB5</text>
<text x="350.34" y="724.62" font-size="12.00" textLength="22.40" lengthAdjust="spacingAndGlyphs">1.06</text>
<text x="278.78" y="751.82" font-size="12.00" textLength="23.78" lengthAdjust="spacingAndGlyphs">1.79</text>
<text x="313.66" y="816.02" font-size="12.00" textLength="23.07" lengthAdjust="spacingAndGlyphs">3.64</text>
<text x="391.48" y="816.02" font-size="12.00" textLength="23.17" lengthAdjust="spacingAndGlyphs">5.03</text>
<text x="263.80" y="678.58" font-size="18.59" textLength="41.84" lengthAdjust="spacingAndGlyphs">AAB5</text>
</svg>
</body></html>
